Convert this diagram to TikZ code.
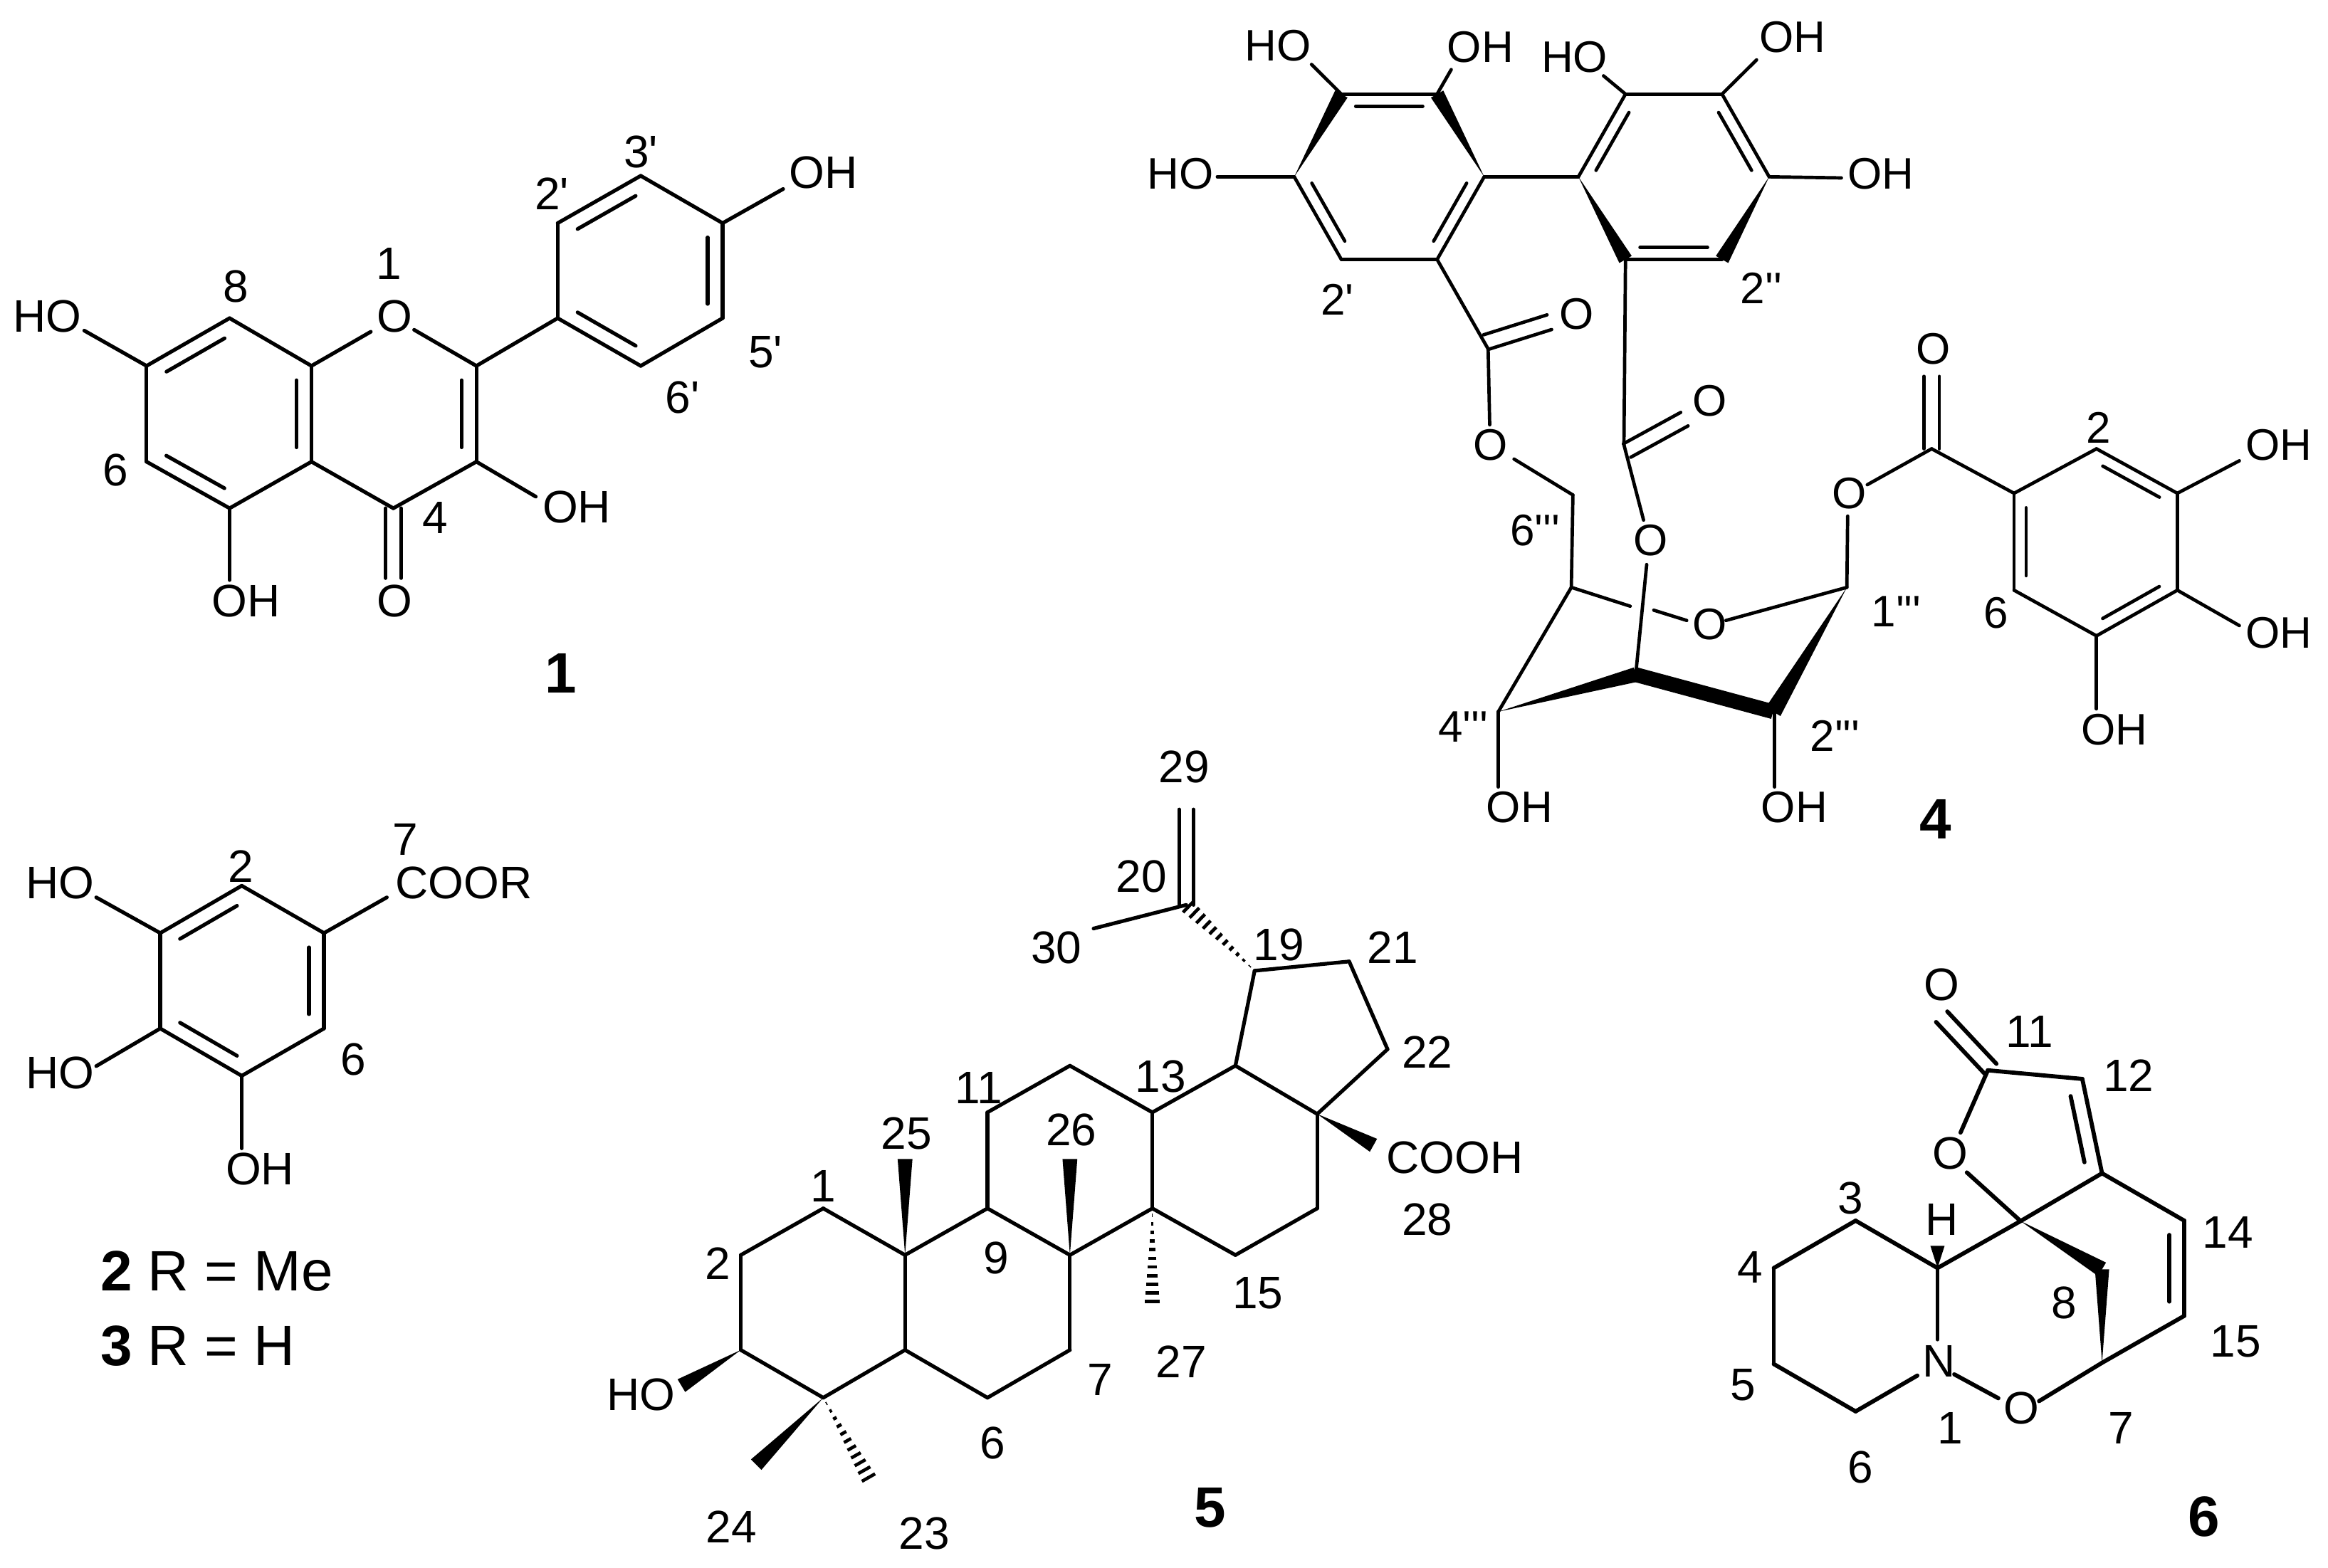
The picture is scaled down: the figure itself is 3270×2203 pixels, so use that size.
\documentclass[tikz,border=0pt]{standalone}
\usepackage{fontspec}
\usetikzlibrary{calc}
\newfontfamily\af{Liberation Sans}
\tikzset{
  bond/.style={line width=2.6pt,line cap=round,black},
  lab/.style={font=\af\fontsize{32}{38}\selectfont,inner sep=0pt,text=black},
  num/.style={font=\af\bfseries\fontsize{40}{48}\selectfont,inner sep=0pt,text=black},
}
\newcommand{\atoms}[1]{\foreach \n/\px/\py in {#1}{\coordinate (\n) at (\px,\py);}}
\newcommand{\bonds}[1]{\foreach \p/\q in {#1}{\draw[bond] (\p) -- (\q);}}
\newcommand{\inln}[2][10.5pt]{\foreach \p/\q in {#2}{\draw[bond] ($(\p)!.15!(\q)!#1!90:(\q)$) -- ($(\q)!.15!(\p)!#1!-90:(\p)$);}}
\newcommand{\twin}[2][5.4pt]{\foreach \p/\q in {#2}{\draw[bond] ($(\p)!#1!90:(\q)$) -- ($(\q)!#1!-90:(\p)$);\draw[bond] ($(\p)!#1!-90:(\q)$) -- ($(\q)!#1!90:(\p)$);}}
\newcommand{\wdg}[2][5.2pt]{\foreach \p/\q in {#2}{\fill[black] (\p) -- ($(\q)!#1!90:(\p)$) -- ($(\q)!#1!-90:(\p)$) -- cycle;}}
\newcommand{\hsh}[3][5.5]{\foreach \t in {0.07,0.16,...,1.01}{\pgfmathsetmacro\dd{\t*#1}\draw[line width=2.3pt,black] ($(#2)!\t!(#3)!\dd pt!90:(#3)$) -- ($(#2)!\t!(#3)!\dd pt!-90:(#3)$);}}
\newcommand{\labels}[2][lab]{\foreach \n/\px/\py/\t in {#2}{\node[#1] (\n) at (\px,\py) {\t};}}
\begin{document}
\begin{tikzpicture}[x=0.5pt,y=-0.5pt]
\useasboundingbox (0,0) rectangle (3270,2203);
%%%%% compound 1
\begin{scope}[shift={(0,150)},x=0.41667pt,y=-0.2725pt]
\atoms{A8/387/545,A7/247/668,A6/247/915,A5/387/1035,A4a/525/915,A8a/525/668,AC2/803/668,AC3/803/915,AC4/663/1035,
 AB1/940/545,AB2/940/300,AB3/1080/178,AB4/1218/300,AB5/1218/545,AB6/1080/668,
 AOl/625/580,AOr/698/575,AHO7/142/577,AOH5/387/1220,AOC/663/1215,AOH3/903/1005,AOH4/1320/212}
\bonds{A7/A8,A8/A8a,A8a/AOl,AOr/AC2,AC2/AC3,AC3/AC4,AC4/A4a,A4a/A8a,A4a/A5,A5/A6,A6/A7,AC2/AB1,AB1/AB2,AB2/AB3,AB3/AB4,AB4/AB5,AB5/AB6,AB6/AB1,A7/AHO7,A5/AOH5,AC3/AOH3,AB4/AOH4}
\inln{A8/A7,A6/A5,A4a/A8a,AC3/AC2,AB3/AB2,AB5/AB4,AB1/AB6}
\twin{AC4/AOC}
\labels{Lao/665/540/O,Laho/80/540/HO,Lao5/415/1275/OH,Laoc/665/1275/O,Lao3/972/1032/OH,Lao4/1388/170/OH,
 La1/655/405/1,La8/397/463/8,La6/195/937/6,La4/733/1060/4,La2p/930/225/2',La3p/1080/117/3',La5p/1290/632/5',La6p/1150/750/6'}
\labels[num]{Lac/945/1460/1}
\end{scope}
%%%%% compounds 2, 3
\begin{scope}[shift={(0,1100)},x=0.2725pt,y=-0.2725pt]
\atoms{B2/623/265,B1/835/387,B6/835/633,B5/623/755,B4/413/633,B3/413/387,BHa/248/295,BHb/248/730,BHc/623/942,BCO/997/295}
\bonds{B3/B2,B2/B1,B1/B6,B6/B5,B5/B4,B4/B3,B3/BHa,B4/BHb,B5/BHc,B1/BCO}
\inln{B2/B3,B4/B5,B6/B1}
\labels{Lba/155/258/HO,Lbb/155/748/HO,Lbc/670/995/OH,Lbd/1195/258/COOR,Lb7/1045/145/7,Lb2/620/215/2,Lb6/910/712/6}
\node[lab,font=\af\fontsize{40}{48}\selectfont,anchor=base west] (Lbx) at (258,1310) {\textbf{2} R = Me};
\node[lab,font=\af\fontsize{40}{48}\selectfont,anchor=base west] (Lby) at (258,1502) {\textbf{3} R = H};
\end{scope}
%%%%% compound 4
\begin{scope}[shift={(1550,0)},x=0.5513pt,y=-0.4006pt,bond/.append style={line width=2.35pt}]
\atoms{Da/303/165,Db/425/165,Dc/485/310,Dd/425/455,De/303/455,Df/243/310,
 Dg/605/310,Dh/665/165,Di/788/165,Dj/848/310,Dk/788/455,Dl/665/455,
 DHa/265/113,DHb/443/122,DHf/145/310,DHh/637/133,DHi/832/105,DHj/940/312,
 Dm/490/612,DmO/568/565,DmC/487/600,DO1a/492/745,DO1b/523/805,DCH/598/868,Dp/596/1030,
 Dn/663/780,DnC/667/790,DnO/740/735,DO2a/688/912,DO2b/692/990,Ds/678/1183,
 DGa/671/1063,DGb/701/1070,DOa/743/1088,DOb/793/1088,Dq/947/1030,Dr/853/1248,Drb/855/1248,Dt/503/1248,DOHt/503/1380,DOHr/855/1380,
 DO3a/948/905,DO3b/973/850,DC/1055/787,DCO/1055/660,
 Du/1160/865,Dv/1265/787,Dw/1368/865,Dx/1368/1035,Dy/1265/1115,Dz/1160/1035,
 DHw/1447/808,DHx/1447/1097,DHy/1265/1243}
\bonds{Da/Db,De/Dd,Dd/Dc,Df/De,Dc/Dg,Dg/Dh,Dh/Di,Di/Dj,Dk/Dl,
 Da/DHa,Db/DHb,Df/DHf,Dh/DHh,Di/DHi,Dj/DHj,
 Dd/Dm,Dm/DO1a,DO1b/DCH,DCH/Dp,Dl/Dn,Dn/DO2a,DO2b/Ds,Dp/DGa,DGb/DOa,DOb/Dq,Dp/Dt,Dt/DOHt,Drb/DOHr,
 Dq/DO3a,DO3b/DC,DC/Du,Du/Dv,Dv/Dw,Dw/Dx,Dx/Dy,Dy/Dz,Dz/Du,Dw/DHw,Dx/DHx,Dy/DHy}
\inln[8.5pt]{Db/Da,Df/De,Dd/Dc,Dh/Dg,Dl/Dk,Dj/Di,Du/Dz,Dy/Dx,Dw/Dv}
\twin{DmC/DmO,DnC/DnO,DC/DCO}
\wdg[5pt]{Df/Da,Dc/Db,Dg/Dl,Dj/Dk}
\wdg[6pt]{Dq/Dr}
\wdg[5.2pt]{Dt/Ds}
\draw[line width=10.4pt,black] (Ds) -- (Dr);
\labels[lab,font=\af\fontsize{31}{36}\selectfont]{Lda/222/80/HO,Ldb/480/83/OH,Ldc/98/305/HO,Ldd/600/100/HO,Lde/878/65/OH,Ldf/990/305/OH,
 Ld2p/298/525/2',Ld2q/838/505/2'',LdO1/603/550/O,LdO2/493/780/O,Ld6/550/930/6''',LdO3/772/703/O,LdO4/697/948/O,
 LdO5/772/1095/O,Ld4t/458/1275/4''',Ld2t/932/1290/2''',Ld1t/1010/1072/1''',LdOHt/530/1415/OH,LdOHr/880/1415/OH,
 LdO6/950/865/O,LdO7/1057/612/O,Ldw/1497/780/OH,Ldx/1497/1110/OH,Ldy/1288/1280/OH,Ld2/1268/750/2,Ld6b/1137/1075/6}
\labels[num]{Ldc4/1060/1437/4}
\end{scope}
%%%%% compound 5
\begin{scope}[shift={(800,1000)},x=0.4488pt,y=-0.3855pt]
\atoms{E1/397/905,E2/268/990,E3/268/1163,E4/397/1250,E5/525/1163,E10/525/990,E9/654/905,E11/654/730,E12/783/645,E13/912/730,E14/912/905,
 E8/783/990,E7/783/1163,E6/654/1250,E15/1042/990,E16/1170/905,E17/1170/733,E18/1042/645,E22/1280/615,E21/1220/455,E19/1072/472,E20/965/352,
 E30/820/395,E29/965/178,E25/525/815,E26/783/815,E27/912/1080,E28/1258/790,EHO/175/1228,E24/292/1372,E23/470/1400}
\bonds{E1/E2,E2/E3,E3/E4,E4/E5,E5/E10,E10/E1,E10/E9,E9/E11,E11/E12,E12/E13,E13/E14,E14/E8,E8/E9,E8/E7,E7/E6,E6/E5,E14/E15,E15/E16,E16/E17,E17/E18,E18/E13,E17/E22,E22/E21,E21/E19,E19/E18,E20/E30}
\twin[5pt]{E20/E29}
\wdg{E10/E25,E8/E26,E17/E28,E3/EHO,E4/E24}
\hsh{E14}{E27}
\hsh{E4}{E23}
\hsh{E19}{E20}
\labels{Le29/962/100/29,Le20/895/300/20,Le30/762/430/30,Le19/1110/425/19,Le21/1288/430/21,Le22/1342/620/22,Le13/925/665/13,Le11/640/685/11,
 Le25/527/768/25,Le26/785/762/26,Le1/397/865/1,Le2/232/1005/2,Le9/668/995/9,LeC/1385/812/COOH,Le28/1342/925/28,Le15/1077/1060/15,Le27/957/1185/27,
 Le7/830/1217/7,Le6/662/1332/6,LeHO/112/1245/HO,Le24/253/1485/24,Le23/555/1497/23}
\labels[num]{Le5c/1002/1450/5}
\end{scope}
%%%%% compound 6
\begin{scope}[shift={(2350,1300)},x=0.2948pt,y=-0.2894pt,bond/.append style={line width=2.9pt}]
\atoms{F3/435/717,F4/240/832,F5/240/1065,F6/435/1180,FN6/582/1093,F2/630/832,FNt/630/1005,FNr/670/1090,FOl/775/1148,FOr/872/1155,F7/1022/1062,
 F15/1218/948,F14/1218/717,F13/1022/602,Fs/828/718,F12/975/373,F11/750/352,FOa/685/503,FOb/700/600,FCO/640/222,FCC/757/349,F8/1022/835,FH/630/778}
\bonds{F2/F3,F3/F4,F4/F5,F5/F6,F6/FN6,FNt/F2,FNr/FOl,FOr/F7,F7/F15,F15/F14,F14/F13,F13/Fs,Fs/F2,F13/F12,F12/F11,F11/FOa,Fs/FOb}
\inln{F15/F14,F13/F12}
\twin{FCC/FCO}
\wdg[5.5pt]{Fs/F8}
\wdg[5pt]{F7/F8,F2/FH}
\labels{Lf3/422/662/3,Lf4/183/830/4,Lf5/167/1115/5,Lf6/447/1315/6,Lf1/660/1220/1,Lf7/1068/1220/7,Lf8/932/917/8,Lf11/850/258/11,Lf12/1085/365/12,
 Lf14/1322/745/14,Lf15/1340/1010/15,LfN/633/1058/N,LfO2/830/1172/O,LfO1/660/553/O,LfO3/640/145/O,LfH/640/715/H}
\labels[num]{Lfc/1265/1435/6}
\end{scope}
\end{tikzpicture}
\end{document}
